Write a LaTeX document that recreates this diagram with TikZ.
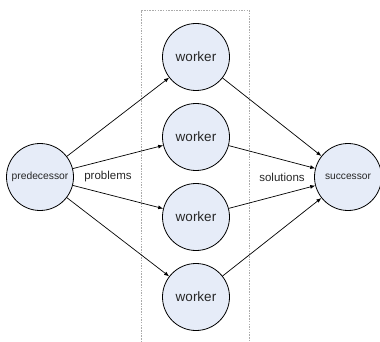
\documentclass[tikz,border=0pt]{standalone}
\usepackage{fontspec}
\setmainfont{Liberation Sans}
\usetikzlibrary{arrows.meta}
\definecolor{nodefill}{HTML}{E6ECF8}
\definecolor{boxgray}{HTML}{ABABAB}
\tikzset{
  proc/.style={circle, draw=black, line width=0.8pt, fill=nodefill, minimum size=67pt, inner sep=0pt, text=black!85},
  conn/.style={line width=0.7pt, -{Latex[length=5pt,width=4pt]}},
  lbl/.style={inner sep=0pt, text=black!85, font=\fontsize{11.5}{13}\selectfont}
}
\begin{document}
\begin{tikzpicture}[x=1pt,y=-1pt]
\useasboundingbox (0,0) rectangle (380,342);
\draw[boxgray, dash pattern=on 1.5pt off 1.2pt, line width=0.6pt] (141.5,345) -- (141.5,10) -- (249,10) -- (249,345);
\node[proc, font=\fontsize{10.3}{12}\selectfont] (pred) at (40,177) {predecessor};
\node[proc, font=\fontsize{10.2}{12}\selectfont] (succ) at (348,177) {successor};
\foreach \i/\y in {1/57,2/137,3/217,4/297}{
  \node[proc, font=\fontsize{13.5}{15}\selectfont] (w\i) at (196,\y) {worker};
}
\foreach \i in {1,2,3,4}{
  \draw[conn] (pred) -- (w\i);
  \draw[conn] (w\i) -- (succ);
}
\node[lbl] (prob) at (108,177) {problems};
\node[lbl] (sol) at (282,177) {solutions};
\end{tikzpicture}
\end{document}
